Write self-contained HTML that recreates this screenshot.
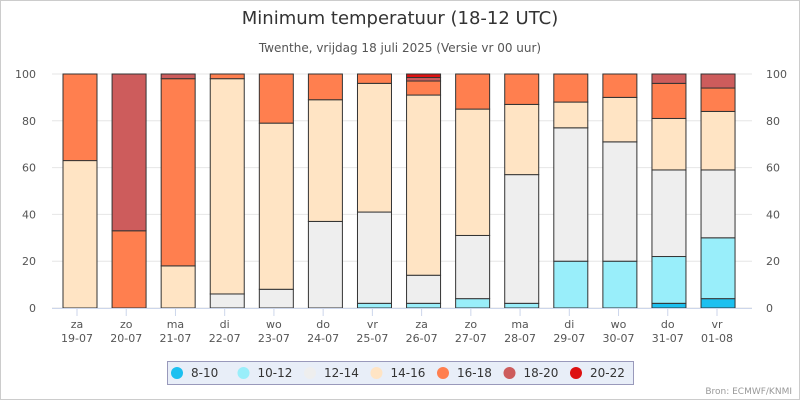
<!DOCTYPE html>
<html><head><meta charset="utf-8"><style>
body{margin:0;background:#fff;font-family:"Liberation Sans",sans-serif;}
svg text{font-family:"DejaVu Sans","Liberation Sans",sans-serif;}
</style></head><body>
<svg id="c" width="800" height="400" viewBox="0 0 800 400">
<rect x="0.5" y="0.5" width="799" height="399" fill="#fff" stroke="#ccc"/>
<text x="400" y="24" text-anchor="middle" font-size="18" fill="#333">Minimum temperatuur (18-12 UTC)</text>
<text x="400" y="52" text-anchor="middle" font-size="12" fill="#555">Twenthe, vrijdag 18 juli 2025 (Versie vr 00 uur)</text>
<text x="792" y="394" text-anchor="end" font-size="9" fill="#999">Bron: ECMWF/KNMI</text>
<g id="grid"></g><g id="bars"></g><g id="axes"></g><g id="legend"></g>
</svg>
<script>
const categories=["za|19-07","zo|20-07","ma|21-07","di|22-07","wo|23-07","do|24-07","vr|25-07","za|26-07","zo|27-07","ma|28-07","di|29-07","wo|30-07","do|31-07","vr|01-08"];
const seriesNames=["8-10","10-12","12-14","14-16","16-18","18-20","20-22"];
const s8_10 =[0,0,0,0,0,0,0,0,0,0,0,0,2,4];
const s10_12=[0,0,0,0,0,0,2,2,4,2,20,20,20,26];
const s12_14=[0,0,0,6,8,37,39,12,27,55,57,51,37,29];
const s14_16=[63,0,18,92,71,52,55,77,54,30,11,19,22,25];
const s16_18=[37,33,80,2,21,11,4,6,15,13,12,10,15,10];
const s18_20=[0,67,2,0,0,0,0,1.5,0,0,0,0,4,6];
const s20_22=[0,0,0,0,0,0,0,1.5,0,0,0,0,0,0];
const yTicks=[0,20,40,60,80,100];
const colors=["#1cc0f0","#99eefa","#eeeeee","#ffe4c4","#ff7f4f","#cd5c5c","#dd1111"];
const series=[s8_10,s10_12,s12_14,s14_16,s16_18,s18_20,s20_22];
const NS="http://www.w3.org/2000/svg";
const L=52,R=752,T=74,B=308;
const y=v=>B-(B-T)*v/100;
const xl=i=>77+49.23*i;
const xb=i=>80+49.08*i;
function mk(tag,attrs,parent){const e=document.createElementNS(NS,tag);for(const k in attrs)e.setAttribute(k,attrs[k]);document.getElementById(parent).appendChild(e);return e;}
yTicks.forEach(t=>{
 const g=mk("line",{x1:L,x2:R,y1:y(t),y2:y(t),stroke:"#e6e6e6"},"grid");
 
 
 const a=mk("text",{x:L-16,y:y(t)+4,"text-anchor":"end","font-size":11,fill:"#555"},"axes");a.textContent=t;
 
 
 const b=mk("text",{x:R+14,y:y(t)+4,"font-size":11,fill:"#555"},"axes");b.textContent=t;
 
 
});
const ax=mk("line",{x1:L,x2:R,y1:B+0.5,y2:B+0.5,stroke:"#ccd6eb"},"axes");


categories.forEach((c,i)=>{
 const tk=mk("line",{x1:xl(i),x2:xl(i),y1:B,y2:B+8,stroke:"#ccd6eb"},"axes");
 
 
 const [d,dt]=c.split("|");
 const t=mk("text",{x:xl(i),y:B+20,"text-anchor":"middle","font-size":11,fill:"#555"},"axes");
 
 
 const t1=document.createElementNS(NS,"tspan");t1.setAttribute("x",xl(i));t1.textContent=d;t.appendChild(t1);
 const t2=document.createElementNS(NS,"tspan");t2.setAttribute("x",xl(i));t2.setAttribute("dy","14");t2.textContent=dt;t.appendChild(t2);
 let cum=0;const bw=34;
 series.forEach((s,k)=>{
  const v=s[i];if(v<=0)return;
  const r=mk("rect",{x:xb(i)-bw/2,y:y(cum+v),width:bw,height:y(cum)-y(cum+v),fill:colors[k],stroke:"#333","stroke-width":1},"bars");
  
  
  cum+=v;
 });
});
const lb=mk("rect",{x:167.5,y:361.5,width:466,height:23,fill:"#e8eef8",stroke:"#99b","stroke-width":1},"legend");


seriesNames.forEach((n,k)=>{
 const lx=177+k*66.5;
 const ci=mk("circle",{cx:lx,cy:373,r:6,fill:colors[k]},"legend");
 
 
 const t=mk("text",{x:lx+14,y:377,"font-size":12,fill:"#333"},"legend");t.textContent=n;
 
 
});
</script>
</body></html>
